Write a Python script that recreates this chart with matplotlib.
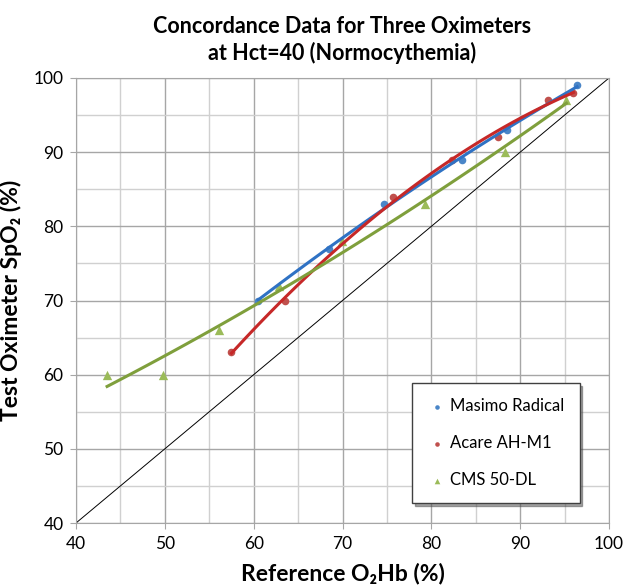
import numpy as np
import matplotlib.pyplot as plt

plt.rcParams['font.family'] = ['Lato', 'DejaVu Sans']

# --- Data ---
masimo_x = [60.5, 68.5, 74.7, 83.5, 88.5, 96.4]
masimo_y = [70.0, 77.0, 83.0, 89.0, 93.0, 99.0]

acare_x = [57.5, 63.5, 75.7, 82.3, 87.5, 93.1, 96.0]
acare_y = [63.0, 70.0, 84.0, 89.0, 92.0, 97.0, 98.0]

cms_x = [43.5, 49.8, 56.1, 62.8, 69.9, 79.3, 88.3, 95.2]
cms_y = [60.0, 60.0, 66.0, 72.0, 78.0, 83.0, 90.0, 97.0]

ticks = [40, 50, 60, 70, 80, 90, 100]

fig = plt.figure(figsize=(6.24, 5.86), dpi=100)
ax = fig.add_axes([0.1218, 0.1075, 0.8542, 0.7594])

# grid
ax.set_xlim(40, 100)
ax.set_ylim(40, 100)
ax.set_xticks(ticks)
ax.set_yticks(ticks)
ax.set_xticks(np.arange(45, 100, 10), minor=True)
ax.set_yticks(np.arange(45, 100, 10), minor=True)
ax.grid(True, which='major', color='#a6a6a6', lw=1.0)
ax.grid(True, which='minor', color='#d0d0d0', lw=1.0)
ax.set_axisbelow(True)
for s in ax.spines.values():
    s.set_color('#a6a6a6')
ax.tick_params(which='major', length=4, color='#a6a6a6', labelsize=12.5, pad=5)
ax.tick_params(which='minor', length=0)

# identity line
ax.plot([40, 100], [40, 100], color='black', lw=0.7)

series = [
    (masimo_x, masimo_y, '#4a86c8', '#2f72c4', 'o', 30, 'Masimo Radical'),
    (acare_x, acare_y, '#c0504d', '#c62828', 'o', 30, 'Acare AH-M1'),
    (cms_x, cms_y, '#9bbb59', '#7f9f3c', '^', 45, 'CMS 50-DL'),
]

handles = []
for x, y, mc, lc, m, sz, lab in series:
    h = ax.scatter(x, y, color=mc, marker=m, s=sz, zorder=3, label=lab, linewidths=0)
    handles.append(h)
    # polynomial trend line over the data range
    coef = np.polyfit(x, y, 2)
    xs = np.linspace(min(x), max(x), 100)
    ax.plot(xs, np.polyval(coef, xs), color=lc, lw=2.2, zorder=4)

leg = ax.legend(handles=handles, loc='lower right', bbox_to_anchor=(0.945, 0.045),
                fontsize=12, frameon=True, fancybox=False, shadow=True,
                labelspacing=1.25, borderpad=0.9, handletextpad=0.2,
                markerscale=0.6, handlelength=1.2, borderaxespad=0)
leg.get_frame().set_edgecolor('#404040')
leg.get_frame().set_linewidth(1.0)

ax.set_title('Concordance Data for Three Oximeters\nat Hct=40 (Normocythemia)',
             fontsize=15.5, fontweight='bold', pad=13, linespacing=1.25)
ax.set_xlabel('Reference O\u2082Hb (%)', fontsize=16.5, fontweight='bold', labelpad=8)
ax.set_ylabel('Test Oximeter SpO\u2082 (%)', fontsize=16.5, fontweight='bold', labelpad=8)

fig.savefig('out.png', dpi=100)
